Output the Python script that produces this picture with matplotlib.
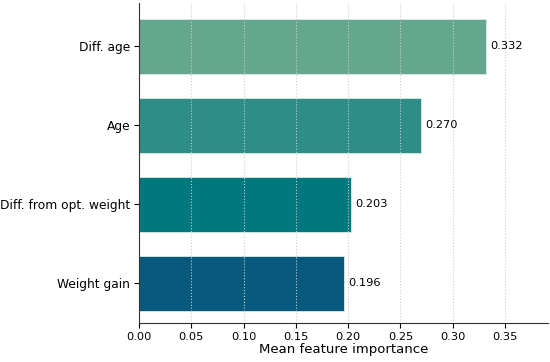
import matplotlib
matplotlib.use("Agg")
import matplotlib.pyplot as plt

features = ["Weight gain", "Diff. from opt. weight", "Age", "Diff. age"]
importance = [0.196, 0.203, 0.270, 0.332]
colors = ["#075a7e", "#00787d", "#2e8d87", "#65a68e"]

fig = plt.figure(figsize=(5.5, 3.62), dpi=100)
ax = fig.add_axes([0.253, 0.108, 0.743, 0.884])
bars = ax.barh(features, importance, height=0.7, color=colors,
               edgecolor="#d8ece6", linewidth=0.6, zorder=2)
ax.grid(axis="x", linestyle=":", color="#cccccc", linewidth=0.8, zorder=3)
ax.set_axisbelow(False)
for sp in ax.spines.values():
    sp.set_zorder(5)
    sp.set_color("#333333")
for b, v in zip(bars, importance):
    ax.text(v + 0.004, b.get_y() + b.get_height() / 2, f"{v:.3f}",
            va="center", ha="left", fontsize=8.2)
ax.set_xlim(0, 0.391)
ax.set_ylim(-0.5, 3.55)
ax.set_xticks([0, 0.05, 0.10, 0.15, 0.20, 0.25, 0.30, 0.35])
ax.set_xticklabels([f"{t:.2f}" for t in ax.get_xticks()])
ax.set_xlabel("Mean feature importance", fontsize=9.5, labelpad=1)
ax.tick_params(axis="x", labelsize=8.2, pad=3, length=3.5)
ax.tick_params(axis="y", labelsize=8.8, pad=3, length=3.5)
ax.spines["top"].set_visible(False)
ax.spines["right"].set_visible(False)
fig.savefig("out.png", dpi=100)
